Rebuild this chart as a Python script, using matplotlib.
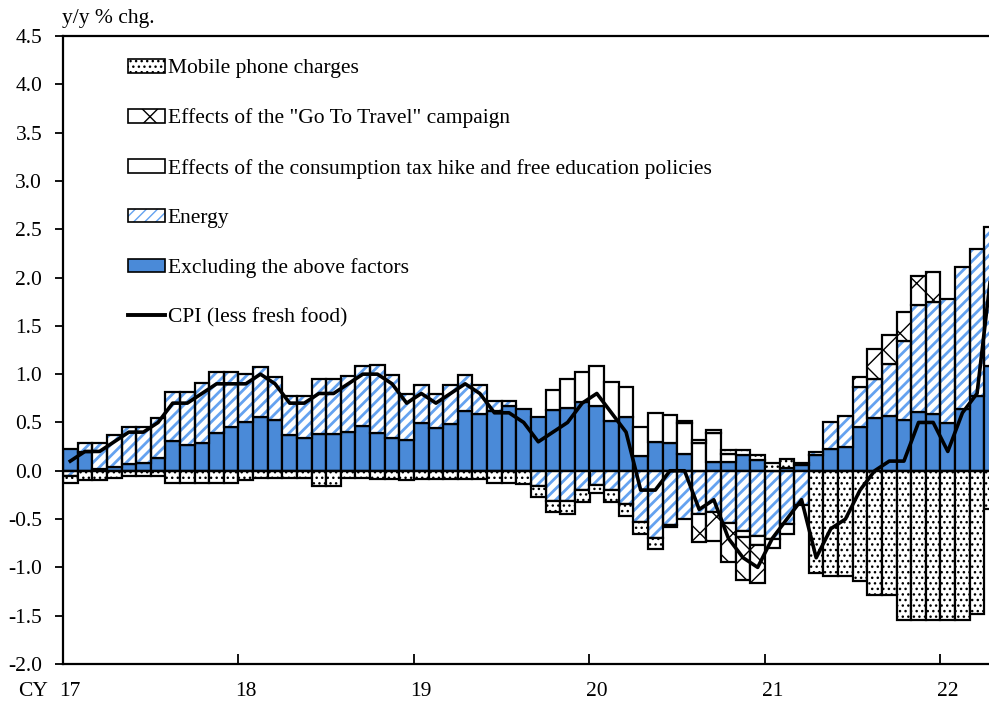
"""CPI (less fresh food) y/y decomposition, stacked monthly bars with CPI line."""
import matplotlib
matplotlib.use("Agg")
import matplotlib.pyplot as plt
from matplotlib.patches import Patch
from matplotlib.lines import Line2D
import numpy as np
import pandas as pd

plt.rcParams["font.family"] = ["Liberation Serif", "DejaVu Serif"]
plt.rcParams["font.size"] = 15.5
plt.rcParams["hatch.linewidth"] = 1.0

# monthly, Jan 2017 .. Apr 2022
months = pd.period_range("2017-01", "2022-04", freq="M")
year_labels = ["17", "18", "19", "20", "21", "22"]

# contributions, %pts
ex_above = [0.23, 0.19, 0.02, 0.04, 0.07, 0.08, 0.13, 0.31, 0.27, 0.29, 0.39, 0.45,
            0.50, 0.56, 0.53, 0.37, 0.34, 0.38, 0.38, 0.40, 0.46, 0.39, 0.34, 0.32,
            0.49, 0.44, 0.48, 0.62, 0.59, 0.62, 0.67, 0.64, 0.56, 0.63, 0.65, 0.71,
            0.67, 0.52, 0.56, 0.15, 0.30, 0.29, 0.17, 0.00, 0.09, 0.09, 0.16, 0.11,
            0.00, 0.03, 0.06, 0.16, 0.23, 0.25, 0.45, 0.55, 0.57, 0.53, 0.61, 0.59,
            0.49, 0.64, 0.77, 1.08]
energy = [-0.05, 0.10, 0.27, 0.33, 0.38, 0.37, 0.42, 0.51, 0.55, 0.62, 0.63, 0.57,
          0.50, 0.51, 0.44, 0.40, 0.43, 0.57, 0.57, 0.58, 0.62, 0.70, 0.65, 0.47,
          0.40, 0.35, 0.41, 0.37, 0.30, 0.10, 0.05, 0.00, -0.16, -0.31, -0.31, -0.20,
          -0.15, -0.20, -0.34, -0.53, -0.70, -0.56, -0.50, -0.45, -0.43, -0.54, -0.62, -0.67,
          -0.71, -0.55, -0.35, 0.03, 0.27, 0.32, 0.42, 0.40, 0.54, 0.81, 1.11, 1.16,
          1.29, 1.47, 1.53, 1.44]
tax_edu = [0.0] * 33 + [0.21, 0.30, 0.31,
           0.41, 0.40, 0.31, 0.30, 0.30, 0.29, 0.32, 0.29, 0.30, 0.08, -0.07, -0.10,
           -0.09, -0.10] + [0.0] * 14
go_to = [0.0] * 43 + [-0.29, -0.30, -0.40, -0.44, -0.39,
         0.0, 0.0, 0.0, 0.0, 0.0, 0.0, 0.10, 0.31, 0.30, 0.30, 0.30, 0.31,
         0.0, 0.0, 0.0, 0.0]
mobile = [-0.08, -0.10, -0.10, -0.08, -0.05, -0.05, -0.05, -0.13, -0.13, -0.13, -0.13, -0.13,
          -0.10, -0.08, -0.08, -0.08, -0.08, -0.16, -0.16, -0.08, -0.08, -0.09, -0.09, -0.10,
          -0.09, -0.09, -0.09, -0.09, -0.09, -0.13, -0.13, -0.14, -0.11, -0.12, -0.14, -0.12,
          -0.08, -0.12, -0.13, -0.12, -0.11, -0.02, 0.02, 0.03, 0.03, 0.05, 0.06, 0.05,
          0.08, 0.09, 0.02, -1.06, -1.09, -1.09, -1.14, -1.29, -1.29, -1.54, -1.54, -1.54,
          -1.54, -1.54, -1.48, -0.40]
cpi = [0.1, 0.2, 0.2, 0.3, 0.4, 0.4, 0.5, 0.7, 0.7, 0.8, 0.9, 0.9,
       0.9, 1.0, 0.9, 0.7, 0.7, 0.8, 0.8, 0.9, 1.0, 1.0, 0.9, 0.7,
       0.8, 0.7, 0.8, 0.9, 0.8, 0.6, 0.6, 0.5, 0.3, 0.4, 0.5, 0.7,
       0.8, 0.6, 0.4, -0.2, -0.2, 0.0, 0.0, -0.4, -0.3, -0.7, -0.9, -1.0,
       -0.7, -0.5, -0.3, -0.9, -0.6, -0.5, -0.2, 0.0, 0.1, 0.1, 0.5, 0.5,
       0.2, 0.6, 0.8, 2.1]

BLUE = "#4a8ad8"
STRIPE = "#64a2f0"
EDGE_LW = 1.6

n = len(months)
x = np.arange(n)

fig = plt.figure(figsize=(9.89, 7.06), dpi=100)
# axes runs a little past the right edge of the figure (cropped, as in the source)
ax = fig.add_axes([63 / 989, 42 / 706, 936 / 989, 628 / 706])

pos = np.zeros(n)
neg = np.zeros(n)


def stack(vals):
    global pos, neg
    v = np.asarray(vals, dtype=float)
    bottom = np.where(v >= 0, pos, neg)
    pos = pos + np.clip(v, 0, None)
    neg = neg + np.clip(v, None, 0)
    m = v != 0
    return x[m], v[m], bottom[m]


xs, h, b = stack(ex_above)
ax.bar(xs, h, bottom=b, width=1.0, color=BLUE, edgecolor="black", lw=EDGE_LW, zorder=2)

xs, h, b = stack(energy)
with plt.rc_context({"hatch.linewidth": 2.0}):
    ax.bar(xs, h, bottom=b, width=1.0, color="white", edgecolor=STRIPE, hatch="///",
           lw=0, zorder=2)
ax.bar(xs, h, bottom=b, width=1.0, fill=False, edgecolor="black", lw=EDGE_LW, zorder=2)

xs, h, b = stack(tax_edu)
ax.bar(xs, h, bottom=b, width=1.0, color="white", edgecolor="black", lw=EDGE_LW, zorder=2)

xs, h, b = stack(go_to)
ax.bar(xs, h, bottom=b, width=1.0, color="white", edgecolor="black", hatch="x",
       lw=EDGE_LW, zorder=2)

xs, h, b = stack(mobile)
ax.bar(xs, h, bottom=b, width=1.0, color="white", edgecolor="black", hatch="...",
       lw=EDGE_LW, zorder=2)

ax.axhline(0, color="black", lw=1.6, zorder=3)
ax.plot(x, cpi, color="black", lw=2.6, zorder=5)

ax.set_xlim(-0.5, n - 0.5)
ax.set_ylim(-2.0, 4.5)
ax.set_yticks(np.arange(-2.0, 4.51, 0.5))
ax.set_yticklabels([f"{v:.1f}" for v in np.arange(-2.0, 4.51, 0.5)])
ax.tick_params(axis="y", direction="out", length=6, width=1.3, pad=9)

jan = np.arange(0, n, 12)
ax.set_xticks(jan - 0.5)
ax.set_xticklabels([])
ax.tick_params(axis="x", which="major", direction="in", length=7, width=1.3)
ax.set_xticks(jan, minor=True)
ax.set_xticklabels(year_labels, minor=True)
ax.tick_params(axis="x", which="minor", length=0, pad=13)

for s in ["left", "bottom", "top", "right"]:
    ax.spines[s].set_linewidth(1.6)

fig.text(18 / 989, 1 - 691 / 706, "CY", ha="left", va="center")
fig.text(62 / 989, 1 - 19 / 706, "y/y % chg.", ha="left", va="center")

handles = [
    Patch(facecolor="white", edgecolor="black", hatch="...", lw=1.2),
    Patch(facecolor="white", edgecolor="black", hatch="x", lw=1.2),
    Patch(facecolor="white", edgecolor="black", lw=1.2),
    (Patch(facecolor="white", edgecolor=STRIPE, hatch="///", lw=0),
     Patch(fill=False, edgecolor="black", lw=1.2)),
    Patch(facecolor=BLUE, edgecolor="black", lw=1.2),
    Line2D([], [], color="black", lw=2.8),
]
labels = [
    "Mobile phone charges",
    'Effects of the "Go To Travel" campaign',
    "Effects of the consumption tax hike and free education policies",
    "Energy",
    "Excluding the above factors",
    "CPI (less fresh food)",
]
ax.legend(handles, labels, loc="upper left", bbox_to_anchor=(128 / 989, 1 - 59 / 706),
          bbox_transform=fig.transFigure, frameon=False, borderpad=0, borderaxespad=0,
          handlelength=1.7, handleheight=0.6, handletextpad=0.15, labelspacing=1.4)

fig.savefig("out.png", dpi=100)
